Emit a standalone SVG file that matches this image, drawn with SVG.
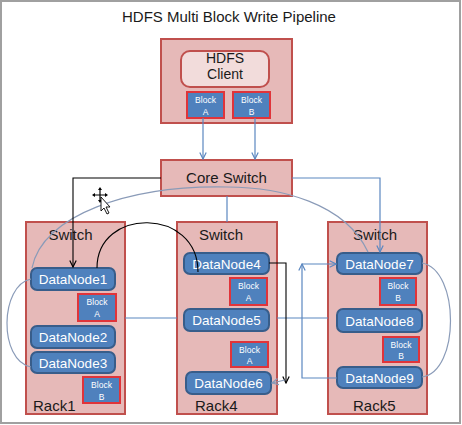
<svg xmlns="http://www.w3.org/2000/svg" width="462" height="425" viewBox="0 0 462 425">
<defs>
<style>
.rack{fill:#e6b9b8;stroke:#c0504d;stroke-width:2}
.dn{fill:#4f81bd;stroke:#385d8a;stroke-width:2}
.blk{fill:#4f81bd;stroke:#e0343a;stroke-width:2}
.lbl{font-family:"Liberation Sans",Arial,sans-serif;fill:#1a1a1a;text-anchor:middle}
.dnt{font-family:"Liberation Sans",Arial,sans-serif;fill:#fff;font-size:13.5px;text-anchor:middle}
.bt{font-family:"Liberation Sans",Arial,sans-serif;fill:#fff;font-size:8.5px;text-anchor:middle}
.bl{fill:none;stroke:#5b87c0;stroke-width:1.2}
.gr{fill:none;stroke:#8a9bb8;stroke-width:1.2}
.bk{fill:none;stroke:#000;stroke-width:1.1}
</style>
<marker id="ab" viewBox="0 0 10 10" refX="9" refY="5" markerWidth="8" markerHeight="8" orient="auto" markerUnits="userSpaceOnUse"><path d="M1,1 L9,5 L1,9" fill="none" stroke="#5b87c0" stroke-width="1.5"/></marker>
<marker id="ak" viewBox="0 0 10 10" refX="9" refY="5" markerWidth="8" markerHeight="8" orient="auto" markerUnits="userSpaceOnUse"><path d="M1,1 L9,5 L1,9" fill="none" stroke="#000" stroke-width="1.5"/></marker>
<marker id="ag" viewBox="0 0 10 10" refX="9" refY="5" markerWidth="8" markerHeight="8" orient="auto" markerUnits="userSpaceOnUse"><path d="M1,1 L9,5 L1,9" fill="none" stroke="#8a9bb8" stroke-width="1.5"/></marker>
</defs>
<rect x="0" y="0" width="462" height="425" fill="#fff"/>
<rect x="1" y="1" width="459" height="422" fill="none" stroke="#a0a0a0" stroke-width="2"/>
<text class="lbl" x="229" y="22" font-size="15">HDFS Multi Block Write Pipeline</text>

<g id="client">
<rect class="rack" x="161" y="39" width="131" height="84"/>
<rect x="181" y="51" width="88" height="36" rx="9" fill="#f2dcdb" stroke="#c0504d" stroke-width="2"/>
<text class="lbl" x="225" y="63" font-size="14">HDFS</text>
<text class="lbl" x="225" y="79" font-size="14">Client</text>
<rect class="blk" x="187" y="92" width="37" height="26"/>
<text class="bt" x="205.5" y="103">Block</text><text class="bt" x="205.5" y="115">A</text>
<rect class="blk" x="233" y="92" width="37" height="26"/>
<text class="bt" x="251.5" y="103">Block</text><text class="bt" x="251.5" y="115">B</text>
</g>

<g id="coreswitch">
<rect class="rack" x="161" y="160" width="131" height="36"/>
<text class="lbl" x="226.5" y="183" font-size="15">Core Switch</text>
</g>

<g id="rack1">
<rect class="rack" x="26" y="222" width="99" height="192"/>
<text class="lbl" x="70.5" y="240" font-size="15">Switch</text>
<text class="lbl" x="33" y="411" font-size="15" text-anchor="start" style="text-anchor:start">Rack1</text>
</g>
<g id="rack4">
<rect class="rack" x="177" y="222" width="100" height="192"/>
<text class="lbl" x="221" y="240" font-size="15">Switch</text>
<text class="lbl" x="195" y="411" font-size="15" style="text-anchor:start">Rack4</text>
</g>
<g id="rack5">
<rect class="rack" x="328" y="222" width="99" height="192"/>
<text class="lbl" x="375" y="240" font-size="15">Switch</text>
<text class="lbl" x="353" y="411" font-size="15" style="text-anchor:start">Rack5</text>
</g>

<g id="dn1"><rect class="dn" x="31" y="268" width="84" height="22" rx="6"/><text class="dnt" x="73" y="284">DataNode1</text></g>
<g id="blk1a"><rect class="blk" x="78" y="294" width="38" height="27"/><text class="bt" x="97" y="305">Block</text><text class="bt" x="97" y="317">A</text></g>
<g id="dn2"><rect class="dn" x="31" y="326" width="84" height="22" rx="6"/><text class="dnt" x="73" y="342">DataNode2</text></g>
<g id="dn3"><rect class="dn" x="31" y="352" width="84" height="21" rx="6"/><text class="dnt" x="73" y="367.5">DataNode3</text></g>
<g id="blk1b"><rect class="blk" x="83" y="377" width="37" height="26"/><text class="bt" x="101.5" y="388">Block</text><text class="bt" x="101.5" y="400">B</text></g>

<g id="dn4"><rect class="dn" x="184" y="253" width="85" height="21" rx="6"/><text class="dnt" x="226.5" y="268.5">DataNode4</text></g>
<g id="blk4a"><rect class="blk" x="230" y="278" width="37" height="27"/><text class="bt" x="248.5" y="289">Block</text><text class="bt" x="248.5" y="301">A</text></g>
<g id="dn5"><rect class="dn" x="184" y="309" width="85" height="22" rx="6"/><text class="dnt" x="226.5" y="325">DataNode5</text></g>
<g id="blk4a2"><rect class="blk" x="231" y="342" width="37" height="25"/><text class="bt" x="249.5" y="353">Block</text><text class="bt" x="249.5" y="364">A</text></g>
<g id="dn6"><rect class="dn" x="186" y="372" width="85" height="22" rx="6"/><text class="dnt" x="228.5" y="388">DataNode6</text></g>

<g id="dn7"><rect class="dn" x="337" y="253" width="85" height="21" rx="6"/><text class="dnt" x="379.5" y="268.5">DataNode7</text></g>
<g id="blk5b"><rect class="blk" x="380" y="278" width="36" height="27"/><text class="bt" x="398" y="289">Block</text><text class="bt" x="398" y="301">B</text></g>
<g id="dn8"><rect class="dn" x="337" y="309" width="85" height="23" rx="6"/><text class="dnt" x="379.5" y="325.5">DataNode8</text></g>
<g id="blk5b2"><rect class="blk" x="383" y="337" width="36" height="25"/><text class="bt" x="401" y="348">Block</text><text class="bt" x="401" y="359">B</text></g>
<g id="dn9"><rect class="dn" x="337" y="367" width="85" height="21" rx="6"/><text class="dnt" x="379.5" y="382.5">DataNode9</text></g>

<g id="connectors">
<path class="bl" d="M203,118 V159" marker-end="url(#ab)"/>
<path class="bl" d="M255,118 V159" marker-end="url(#ab)"/>
<path class="bl" d="M227,196 V222"/>
<path class="bl" d="M292,178 H380 V252" marker-end="url(#ab)"/>
<path class="bl" d="M125,318 H177"/>
<path class="bl" d="M277,318 H328"/>
<path class="bl" d="M337,378 H302 V264" marker-end="url(#ab)"/>
<path class="bl" d="M302,264 H336" marker-end="url(#ab)"/>
<path class="gr" d="M32,268 C42,215 130,185 227,187 C280,187 345,203 368,252"/>
<path class="gr" d="M31,279 C0,285 -2,360 31,367"/>
<path class="gr" d="M422,263 C460,270 460,372 422,377"/>
<path class="bk" d="M161,178 H73 V267" marker-end="url(#ak)"/>
<path class="bk" d="M97,268 C97,207 198,207 198,272"/>
<path class="bk" d="M269,263 H286 V383" marker-end="url(#ak)"/>
<path class="gr" d="M285,380 L272,383" marker-end="url(#ag)"/>
</g>

<g id="cursor">
<path d="M100,189 V201 M94,195 H106" stroke="#000" stroke-width="1.2" fill="none"/>
<path d="M98,190 L100,187 L102,190 Z M98,200 L100,203 L102,200 Z M95,193 L92,195 L95,197 Z M105,193 L108,195 L105,197 Z" fill="#000"/>
<path d="M101,197 L101,211 L104,208 L107,214 L109,213 L106,207 L110,207 Z" fill="#fff" stroke="#000" stroke-width="0.9"/>
</g>
</svg>
